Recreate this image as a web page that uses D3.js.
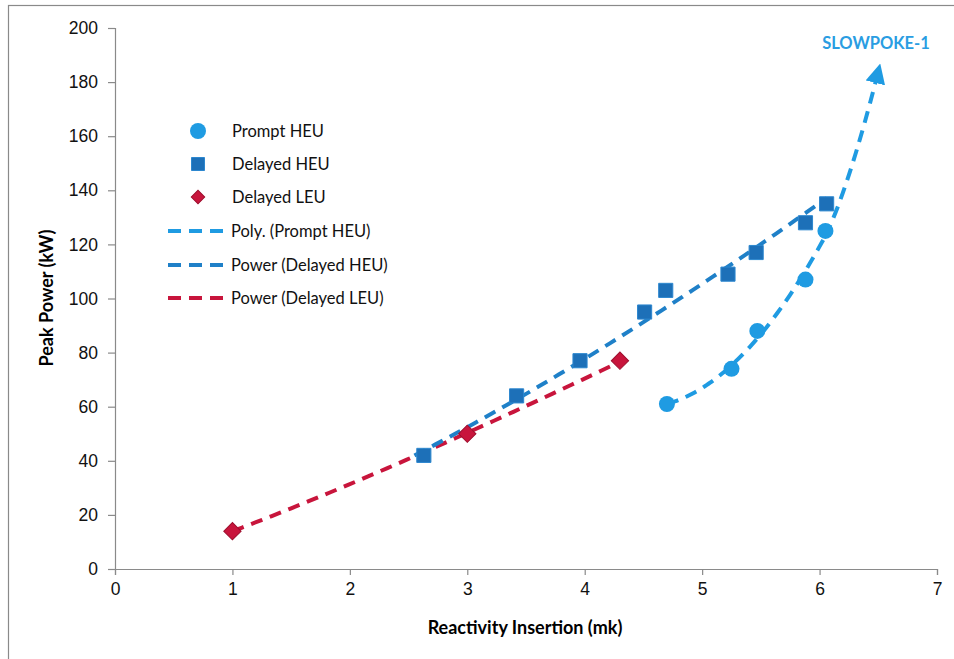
<!DOCTYPE html>
<html lang="en">
<head>
  <title>Peak Power vs Reactivity Insertion</title>
  <script src="https://d3js.org/d3.v7.min.js"></script>
  <style>
    body { margin: 0; padding: 0; background: #fff; overflow: hidden; }
    svg { font-family: Lato, "Open Sans", sans-serif; }
  </style>
</head>
<body>
  <svg id="chart" width="954" height="659"></svg>
  <script>
    // data
    const promptHEU_x = [4.70, 5.25, 5.47, 5.88, 6.05];
    const promptHEU_y = [61, 74, 88, 107, 125];
    const delayedHEU_x = [2.63, 3.42, 3.96, 4.51, 4.69, 5.22, 5.46, 5.88, 6.06];
    const delayedHEU_y = [42, 64, 77, 95, 103, 109, 117, 128, 135];
    const delayedLEU_x = [1.0, 3.0, 4.3];
    const delayedLEU_y = [14, 50, 77];
    const xTicks = [0, 1, 2, 3, 4, 5, 6, 7];
    const yTicks = [0, 20, 40, 60, 80, 100, 120, 140, 160, 180, 200];
    const legendNames = ["Prompt HEU", "Delayed HEU", "Delayed LEU",
      "Poly. (Prompt HEU)", "Power (Delayed HEU)", "Power (Delayed LEU)"];
    const arrowTip = [6.5, 184];   // SLOWPOKE-1 arrow end

    const colPrompt = "#1f9be2";
    const colHEU = "#1d70b8";
    const colHEULine = "#1f80c8";
    const colLEU = "#c8153c";

    const svg = d3.select("#chart");

    // outer frame
    svg.append("rect")
      .attr("x", 8.5).attr("y", 5.5)
      .attr("width", 960).attr("height", 700)
      .attr("fill", "none").attr("stroke", "#8a8a8a").attr("stroke-width", 1.2);

    const x = d3.scaleLinear().domain([0, 7]).range([115, 937]);
    const y = d3.scaleLinear().domain([0, 200]).range([569, 28]);

    // axes
    const xAxis = svg.append("g")
      .attr("transform", `translate(0,${y(0)})`)
      .call(d3.axisBottom(x).tickValues(xTicks).tickFormat(d3.format("d")).tickSize(6).tickPadding(8));
    const yAxis = svg.append("g")
      .attr("transform", `translate(${x(0)},0)`)
      .call(d3.axisLeft(y).tickValues(yTicks).tickSize(7).tickPadding(10));
    [xAxis, yAxis].forEach(a => {
      a.selectAll("path,line").attr("stroke", "#8a8a8a").attr("stroke-width", 1.2);
      a.selectAll("text").attr("font-size", 17.5).attr("fill", "#111");
    });

    svg.append("text")
      .attr("x", 525).attr("y", 634)
      .attr("text-anchor", "middle")
      .attr("font-weight", "bold").attr("font-size", 18)
      .text("Reactivity Insertion (mk)");
    svg.append("text")
      .attr("transform", "translate(53,298) rotate(-90)")
      .attr("text-anchor", "middle")
      .attr("font-weight", "bold").attr("font-size", 18)
      .text("Peak Power (kW)");

    // trendline fits (same kinds as the spreadsheet used)
    function powerFit(xs, ys) {
      const lx = xs.map(Math.log), ly = ys.map(Math.log);
      const mx = d3.mean(lx), my = d3.mean(ly);
      const b = d3.sum(lx, (v, i) => (v - mx) * (ly[i] - my)) / d3.sum(lx, v => (v - mx) ** 2);
      const a = Math.exp(my - b * mx);
      return v => a * Math.pow(v, b);
    }
    function polyFit(xs, ys, order) {
      const n = order + 1;
      const A = Array.from({ length: n }, () => new Array(n + 1).fill(0));
      xs.forEach((xv, k) => {
        for (let i = 0; i < n; i++) {
          for (let j = 0; j < n; j++) A[i][j] += Math.pow(xv, i + j);
          A[i][n] += ys[k] * Math.pow(xv, i);
        }
      });
      for (let i = 0; i < n; i++) {
        let p = i;
        for (let r = i + 1; r < n; r++) if (Math.abs(A[r][i]) > Math.abs(A[p][i])) p = r;
        [A[i], A[p]] = [A[p], A[i]];
        for (let r = 0; r < n; r++) {
          if (r === i) continue;
          const f = A[r][i] / A[i][i];
          for (let c = i; c <= n; c++) A[r][c] -= f * A[i][c];
        }
      }
      const coef = A.map((row, i) => row[n] / row[i]);
      return v => coef.reduce((s, c, i) => s + c * Math.pow(v, i), 0);
    }

    const line = d3.line().x(d => x(d[0])).y(d => y(d[1])).curve(d3.curveMonotoneX);
    const sample = (f, x0, x1) => d3.range(0, 41).map(i => {
      const v = x0 + (x1 - x0) * i / 40;
      return [v, f(v)];
    });

    const fPrompt = polyFit(promptHEU_x, promptHEU_y, 2);
    const fHEU = powerFit(delayedHEU_x, delayedHEU_y);
    const fLEU = powerFit(delayedLEU_x, delayedLEU_y);

    const dash = "12,8";
    svg.append("path")
      .attr("d", line(sample(fLEU, d3.min(delayedLEU_x), d3.max(delayedLEU_x))))
      .attr("fill", "none").attr("stroke", colLEU).attr("stroke-width", 4)
      .attr("stroke-dasharray", dash);
    svg.append("path")
      .attr("d", line(sample(fHEU, 2.55, d3.max(delayedHEU_x))))
      .attr("fill", "none").attr("stroke", colHEULine).attr("stroke-width", 4)
      .attr("stroke-dasharray", dash);

    // prompt HEU fit, then the hand-drawn extension to the SLOWPOKE-1 arrow
    const lastX = d3.max(promptHEU_x);
    const promptPts = sample(fPrompt, d3.min(promptHEU_x), lastX);
    svg.append("path")
      .attr("d", line(promptPts))
      .attr("fill", "none").attr("stroke", colPrompt).attr("stroke-width", 4)
      .attr("stroke-dasharray", dash);

    const p0 = [x(lastX), y(fPrompt(lastX))];
    const p2 = [x(arrowTip[0]), y(arrowTip[1])];
    const p1 = [x(lastX + 0.2), y(fPrompt(lastX) + 18)];
    svg.append("defs").append("marker")
      .attr("id", "arrow").attr("viewBox", "0 0 10 10")
      .attr("refX", 6).attr("refY", 5)
      .attr("markerWidth", 5).attr("markerHeight", 5)
      .attr("orient", "auto")
      .append("path").attr("d", "M0,0 L10,5 L0,10 z").attr("fill", colPrompt);
    svg.append("path")
      .attr("d", `M${p0[0]},${p0[1]} Q${p1[0]},${p1[1]} ${p2[0]},${p2[1]}`)
      .attr("fill", "none").attr("stroke", colPrompt).attr("stroke-width", 4)
      .attr("stroke-dasharray", dash)
      .attr("marker-end", "url(#arrow)");

    svg.append("text")
      .attr("x", 876).attr("y", 49)
      .attr("text-anchor", "middle")
      .attr("font-weight", "bold").attr("font-size", 16.5)
      .attr("fill", "#2a9de2")
      .text("SLOWPOKE-1");

    // markers
    const sym = (type, size) => d3.symbol().type(type).size(size)();
    svg.append("g").selectAll("path")
      .data(delayedLEU_x.map((v, i) => [v, delayedLEU_y[i]]))
      .join("path")
      .attr("transform", d => `translate(${x(d[0])},${y(d[1])}) rotate(45)`)
      .attr("d", sym(d3.symbolSquare, 150))
      .attr("fill", colLEU).attr("stroke", "#9e0f2e").attr("stroke-width", 1);
    svg.append("g").selectAll("path")
      .data(delayedHEU_x.map((v, i) => [v, delayedHEU_y[i]]))
      .join("path")
      .attr("transform", d => `translate(${x(d[0])},${y(d[1])})`)
      .attr("d", sym(d3.symbolSquare, 200))
      .attr("fill", colHEU).attr("stroke", "#2c87cf").attr("stroke-width", 1);
    svg.append("g").selectAll("circle")
      .data(promptHEU_x.map((v, i) => [v, promptHEU_y[i]]))
      .join("circle")
      .attr("cx", d => x(d[0])).attr("cy", d => y(d[1]))
      .attr("r", 8)
      .attr("fill", colPrompt);

    // legend
    const legendY = [131, 164, 197, 231, 265, 298];
    const lg = svg.append("g");
    lg.append("circle").attr("cx", 198).attr("cy", legendY[0]).attr("r", 8).attr("fill", colPrompt);
    lg.append("path").attr("transform", `translate(198,${legendY[1]})`)
      .attr("d", sym(d3.symbolSquare, 169)).attr("fill", colHEU).attr("stroke", "#2c87cf");
    lg.append("path").attr("transform", `translate(198,${legendY[2]}) rotate(45)`)
      .attr("d", sym(d3.symbolSquare, 90)).attr("fill", colLEU).attr("stroke", "#9e0f2e");
    [colPrompt, colHEULine, colLEU].forEach((c, i) => {
      lg.append("line")
        .attr("x1", 168).attr("x2", 230)
        .attr("y1", legendY[3 + i]).attr("y2", legendY[3 + i])
        .attr("stroke", c).attr("stroke-width", 4).attr("stroke-dasharray", "13,8");
    });
    lg.selectAll("text")
      .data(legendNames)
      .join("text")
      .attr("x", (d, i) => i < 3 ? 232 : 231)
      .attr("y", (d, i) => legendY[i] + 6)
      .attr("font-size", 16.5).attr("fill", "#111")
      .text(d => d);
  </script>
</body>
</html>
